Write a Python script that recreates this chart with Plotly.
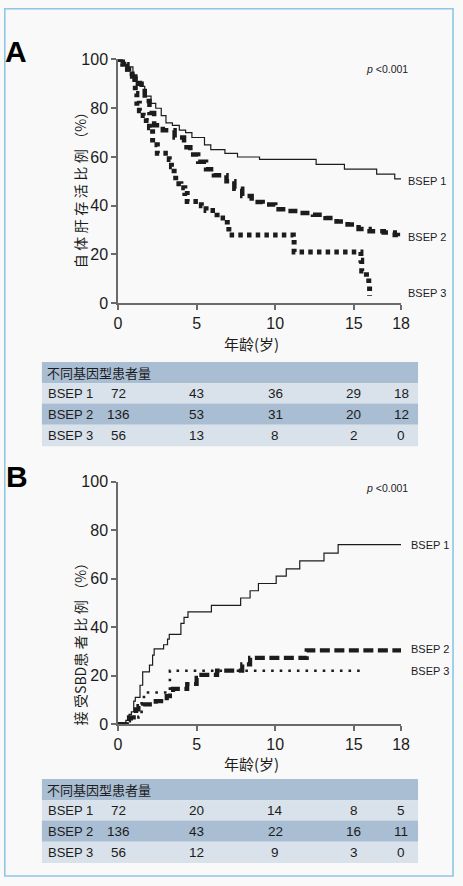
import plotly.graph_objects as go

W, H = 463, 886

# ---------------- data ----------------
# Panel A: native liver survival (%)
a_bsep1_t = [0, 0.3, 0.6, 0.95, 1.5, 1.7, 2.1, 2.4, 2.75, 3.05, 3.46, 3.9, 4.3, 4.7, 5.5, 5.9, 6.8, 7.6, 9.0, 12.6, 14.4, 16.45, 17.6, 18]
a_bsep1_v = [100, 98, 97, 91, 89, 85, 82, 80, 77, 74, 73, 71, 70, 68, 65, 63, 61.5, 60, 59, 57, 55, 53, 51, 51]

a_bsep2_t = [0, 0.3, 0.6, 0.9, 1.1, 1.5, 1.7, 2.0, 2.3, 2.85, 3.6, 4.2, 4.6, 5.1, 5.6, 6.1, 6.9, 7.4, 7.9, 8.5, 9.2, 10.0, 10.8, 11.6, 12.4, 13.2, 13.9, 14.6, 15.3, 16.0, 16.9, 17.6, 17.8]
a_bsep2_v = [100, 98, 96, 93, 90, 88, 83, 78, 73, 71, 68, 64, 61, 58, 55, 52.5, 50, 47, 44, 41.5, 40.5, 38.6, 37.8, 37, 36.3, 35, 33.5, 32.3, 30.5, 29.5, 29, 28, 27.5]

a_bsep3_t = [0, 0.3, 0.6, 0.9, 1.1, 1.2, 1.36, 1.6, 1.8, 2.0, 2.2, 2.5, 3.26, 3.4, 3.57, 3.67, 4.0, 4.25, 4.4, 5.3, 5.6, 6.3, 6.95, 7.05, 11.15, 11.2, 15.45, 15.5, 15.8, 15.95, 16.0]
a_bsep3_v = [100, 98, 96, 92, 86, 82, 79, 77, 75, 72, 65, 61.5, 59, 56, 53, 49, 47.4, 45, 41.7, 40, 38, 35, 31.5, 28, 26.3, 21, 17.6, 13.2, 10.5, 7.6, 3.1]

# Panel B: patients receiving SBD (%)
b_bsep1_t = [0, 0.5, 0.7, 0.85, 1.0, 1.1, 1.4, 1.57, 2.0, 2.2, 2.3, 2.9, 3.15, 3.26, 4.0, 4.2, 4.45, 5.94, 7.8, 8.4, 8.93, 10.06, 10.7, 11.56, 13.1, 14.0, 18]
b_bsep1_v = [0, 1.5, 4, 5, 9.4, 11, 16, 21.5, 24.3, 28.4, 31, 32.7, 35, 37, 41.5, 44, 46.3, 49, 52, 55, 58, 61, 64, 67.3, 70.5, 74, 74]

b_bsep2_t = [0, 0.55, 0.7, 1.0, 1.15, 1.3, 1.6, 2.4, 3.1, 3.3, 3.5, 4.4, 5.0, 5.1, 6.3, 7.9, 8.4, 12.0, 18]
b_bsep2_v = [0, 1.5, 2.7, 4.5, 6, 7.4, 8.1, 9.4, 11.5, 12.8, 14.5, 16.5, 19, 20.3, 22, 24.6, 27.3, 30.4, 30.4]

b_bsep3_t = [0, 0.6, 1.3, 1.5, 1.65, 3.3, 15.7]
b_bsep3_v = [0, 2, 3, 10, 13, 22, 22]

x_ticks = [0, 5, 10, 15, 18]
y_ticks = [0, 20, 40, 60, 80, 100]
series_names = ["BSEP 1", "BSEP 2", "BSEP 3"]

# numbers at risk
a_risk = [[72, 43, 36, 29, 18], [136, 53, 31, 20, 12], [56, 13, 8, 2, 0]]
b_risk = [[72, 20, 14, 8, 5], [136, 43, 22, 16, 11], [56, 12, 9, 3, 0]]

table_title = "不同基因型患者量"
a_ytitle = "自体肝存活比例（%）"
b_ytitle = "接受SBD患者比例（%）"
x_title = "年龄(岁)"
p_text = "<i>p</i> <0.001"

# ---------------- styling ----------------
SANS = "Liberation Sans, Arial, sans-serif"
CJK = "Noto Sans CJK SC, Liberation Sans, sans-serif"
INK = "#1c1c1c"
AXC = "#6a6a6a"
HEAD = "#a9bdd3"
LIGHT = "#d9e1ea"


def X(px):
    return px / W


def Y(py):
    return 1 - py / H


def is_ideo(ch):
    return 0x4E00 <= ord(ch) <= 0x9FFF


def spaced(s):
    out = s[0]
    for a, b in zip(s, s[1:]):
        if is_ideo(a) and (is_ideo(b) or b == "（"):
            out += "\u2005"
        out += b
    return out


fig = go.Figure()


def add(t, v, xa, ya, width, dash):
    fig.add_trace(go.Scatter(x=t, y=v, xaxis=xa, yaxis=ya, mode="lines",
                             line=dict(shape="hv", color=INK, width=width, dash=dash),
                             cliponaxis=False, showlegend=False, hoverinfo="skip"))


add(a_bsep1_t, a_bsep1_v, "x", "y", 1.2, "solid")
add(a_bsep2_t, a_bsep2_v, "x", "y", 4.5, "9px,5px")
add(a_bsep3_t, a_bsep3_v, "x", "y", 5, "4.5px,4.2px")
add(b_bsep1_t, b_bsep1_v, "x2", "y2", 1.2, "solid")
add(b_bsep2_t, b_bsep2_v, "x2", "y2", 4.2, "10px,4.5px")
add(b_bsep3_t, b_bsep3_v, "x2", "y2", 2.6, "2.6px,6px")

x0, x1 = 117.3, 408.5
ax_common = dict(range=[0, 18], tickvals=x_ticks, showline=True, linecolor=AXC, linewidth=1.5,
                 ticks="outside", ticklen=5, tickcolor=AXC, tickwidth=1.5, showgrid=False,
                 zeroline=False, tickfont=dict(family=SANS, size=16, color=INK), fixedrange=True)
ay_common = dict(range=[0, 100], tickvals=y_ticks, showline=True, linecolor=AXC, linewidth=1.5,
                 ticks="outside", ticklen=5, tickcolor=AXC, tickwidth=1.5, showgrid=False,
                 zeroline=False, tickfont=dict(family=SANS, size=16, color=INK), fixedrange=True)

fig.update_layout(
    width=W, height=H, margin=dict(l=0, r=0, t=0, b=0),
    paper_bgcolor="#f9f9f9", plot_bgcolor="rgba(0,0,0,0)",
    xaxis=dict(domain=[X(x0), X(x1)], anchor="y", **ax_common),
    yaxis=dict(domain=[Y(301), Y(52.5)], anchor="x", **ay_common),
    xaxis2=dict(domain=[X(x0), X(x1)], anchor="y2", **ax_common),
    yaxis2=dict(domain=[Y(730), Y(483)], anchor="x2", **ay_common),
)

shapes = []
ann = []

# page border
shapes.append(dict(type="rect", xref="paper", yref="paper", x0=X(0.8), x1=X(462), y0=Y(885), y1=Y(0.8),
                   line=dict(color="#8ec6e6", width=1.6), fillcolor="rgba(0,0,0,0)", layer="above"))


def panel_text(letter, letter_xy, ytitle, ytitle_y, xtitle_y, p_y, lab_ys):
    ann.append(dict(text=f"<b>{letter}</b>", x=X(letter_xy[0]), y=Y(letter_xy[1]), xref="paper", yref="paper",
                    xanchor="center", yanchor="middle", showarrow=False,
                    font=dict(family=SANS, size=30, color="#000")))
    ann.append(dict(text=spaced(ytitle), x=X(78), y=Y(ytitle_y), xref="paper", yref="paper",
                    xanchor="center", yanchor="middle", textangle=-90, showarrow=False,
                    font=dict(family=CJK, size=14, color=INK)))
    ann.append(dict(text=x_title, x=X(255), y=Y(xtitle_y), xref="paper", yref="paper",
                    xanchor="center", yanchor="middle", showarrow=False,
                    font=dict(family=CJK, size=15, color=INK)))
    ann.append(dict(text=p_text, x=X(370), y=Y(p_y), xref="paper", yref="paper",
                    xanchor="left", yanchor="middle", showarrow=False,
                    font=dict(family=SANS, size=10.5, color=INK)))
    for name, (lx, ly) in zip(series_names, lab_ys):
        ann.append(dict(text=name, x=X(lx), y=Y(ly), xref="paper", yref="paper",
                        xanchor="left", yanchor="middle", showarrow=False,
                        font=dict(family=SANS, size=11, color=INK)))


panel_text("A", (12.5, 44), a_ytitle, 182, 342, 61.7, [(414, 176), (414, 233.7), (414, 290.7)])
panel_text("B", (13.3, 477.5), b_ytitle, 645, 770, 489.3, [(417, 547.3), (417, 654), (417, 676)])


def table(top, risk, xref):
    rows = [top, top + 21.7, top + 42.3, top + 64, top + 85.7]
    colors = [HEAD, LIGHT, HEAD, LIGHT]
    for i in range(4):
        shapes.append(dict(type="rect", xref="paper", yref="paper", x0=X(39), x1=X(426),
                           y0=Y(rows[i + 1]), y1=Y(rows[i]), line=dict(width=0),
                           fillcolor=colors[i], layer="below"))
    ann.append(dict(text=table_title, x=X(42), y=Y((rows[0] + rows[1]) / 2), xref="paper", yref="paper",
                    xanchor="left", yanchor="middle", showarrow=False,
                    font=dict(family=CJK, size=13, color=INK)))
    for r in range(3):
        yc = Y((rows[r + 1] + rows[r + 2]) / 2)
        ann.append(dict(text=series_names[r], x=X(43), y=yc, xref="paper", yref="paper",
                        xanchor="left", yanchor="middle", showarrow=False,
                        font=dict(family=SANS, size=13, color=INK)))
        for c, val in enumerate(risk[r]):
            ann.append(dict(text=str(val), x=x_ticks[c], y=yc, xref=xref, yref="paper",
                            xanchor="center", yanchor="middle", showarrow=False,
                            font=dict(family=SANS, size=13.5, color=INK)))


table(361, a_risk, "x")
table(786, b_risk, "x2")

fig.update_layout(shapes=shapes, annotations=ann)
fig.write_html("out.html", config={"displayModeBar": False},
               post_script="document.body.style.margin='0';document.body.style.overflow='hidden';")
